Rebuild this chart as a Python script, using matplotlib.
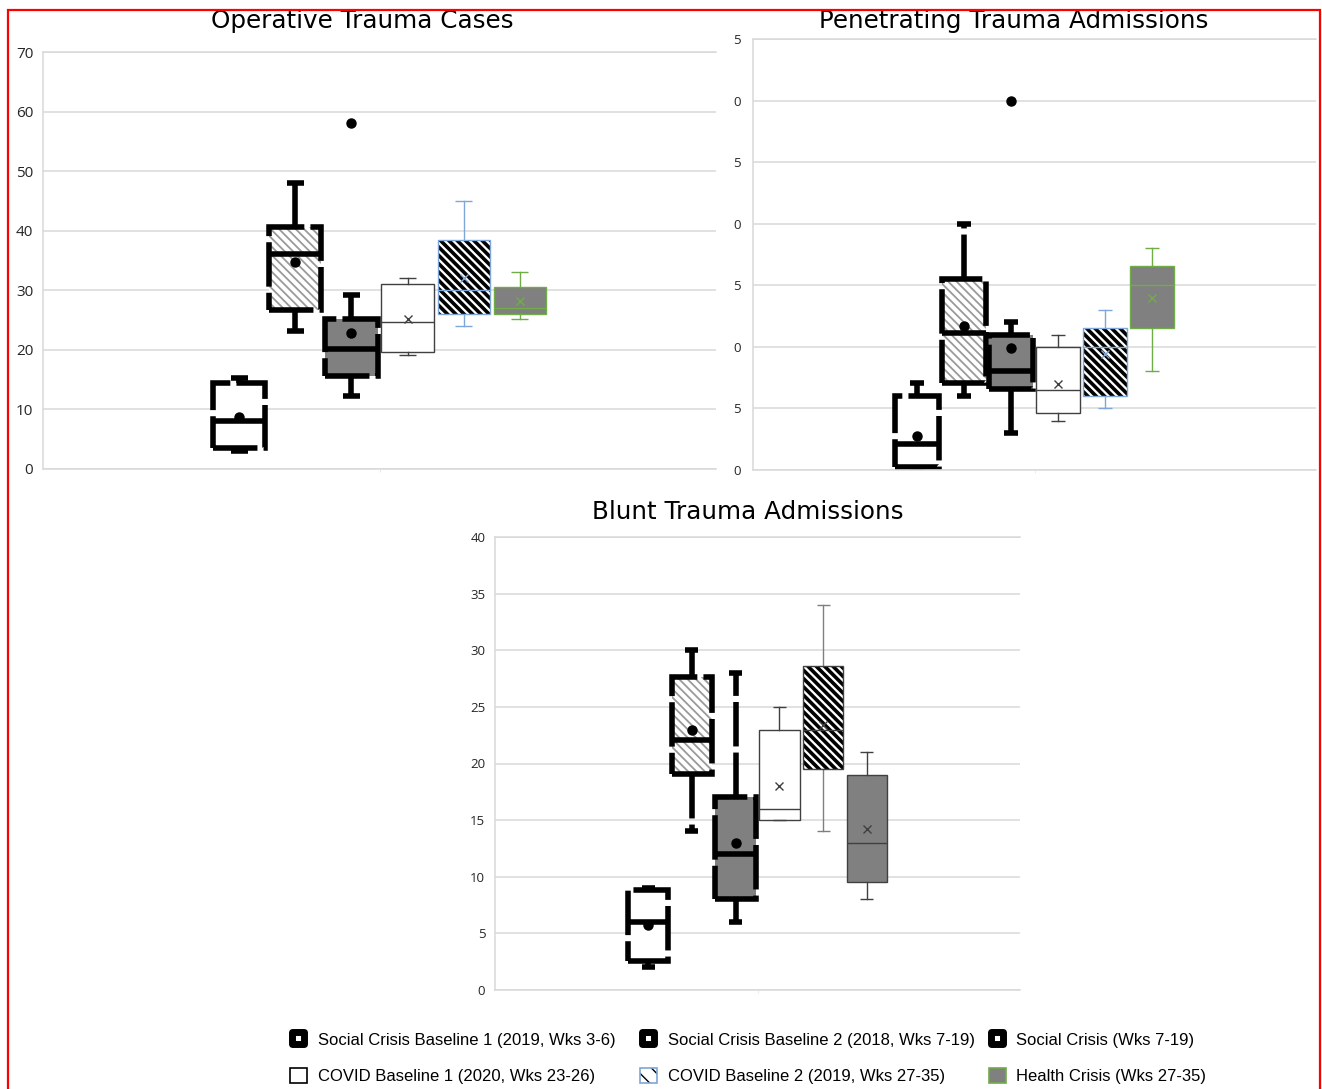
import matplotlib
matplotlib.use("Agg")
import matplotlib as mpl
import matplotlib.pyplot as plt
from matplotlib.patches import Patch, PathPatch, Rectangle
from matplotlib.lines import Line2D
from matplotlib.markers import MarkerStyle
from matplotlib.legend_handler import HandlerTuple

W, H, DPI = 1322, 1089, 100

series_names = [
    "Social Crisis Baseline 1 (2019, Wks 3-6)",
    "Social Crisis Baseline 2 (2018, Wks 7-19)",
    "Social Crisis (Wks 7-19)",
    "COVID Baseline 1 (2020, Wks 23-26)",
    "COVID Baseline 2 (2019, Wks 27-35)",
    "Health Crisis (Wks 27-35)",
]

# ---- Operative Trauma Cases ----
op_whislo = [3.0, 23.2, 12.2, 19.2, 24.0, 25.1]
op_q1     = [3.5, 26.7, 15.6, 19.6, 26.1, 26.1]
op_med    = [8.1, 36.1, 20.1, 24.6, 30.0, 27.1]
op_q3     = [14.5, 40.6, 25.2, 31.0, 38.5, 30.5]
op_whishi = [15.2, 48.0, 29.2, 32.1, 45.0, 33.1]
op_mean   = [8.8, 34.7, 22.8, 25.1, 32.0, 28.2]
op_fliers = [[], [], [58.0], [], [], []]
op_ticks = [0, 10, 20, 30, 40, 50, 60, 70]
op_ticklabels = ["0", "10", "20", "30", "40", "50", "60", "70"]

# ---- Penetrating Trauma Admissions ----
pen_whislo = [0.0, 6.0, 3.0, 4.0, 5.0, 8.0]
pen_q1     = [0.25, 7.1, 6.6, 4.6, 6.0, 11.5]
pen_med    = [2.1, 11.1, 8.0, 6.5, 10.0, 15.0]
pen_q3     = [6.0, 15.5, 11.0, 10.0, 11.5, 16.6]
pen_whishi = [7.1, 20.0, 12.0, 11.0, 13.0, 18.0]
pen_mean   = [2.8, 11.7, 9.9, 7.0, 9.4, 14.0]
pen_fliers = [[], [], [30.0], [], [], []]
pen_ticks = [0, 5, 10, 15, 20, 25, 30, 35]
pen_ticklabels = ["0", "5", "0", "5", "0", "5", "0", "5"]

# ---- Blunt Trauma Admissions ----
bl_whislo = [2.0, 14.0, 6.0, 15.0, 14.0, 8.0]
bl_q1     = [2.6, 19.1, 8.0, 15.0, 19.5, 9.5]
bl_med    = [6.0, 22.1, 12.0, 16.0, 23.0, 13.0]
bl_q3     = [8.8, 27.6, 17.0, 23.0, 28.6, 19.0]
bl_whishi = [9.0, 30.0, 28.0, 25.0, 34.0, 21.0]
bl_mean   = [5.7, 23.0, 13.0, 18.0, 23.4, 14.2]
bl_fliers = [[], [], [], [], [], []]
bl_ticks = [0, 5, 10, 15, 20, 25, 30, 35, 40]
bl_ticklabels = ["0", "5", "10", "15", "20", "25", "30", "35", "40"]

positions = [1, 2, 3, 4, 5, 6]

# ---- styles ----
THICK = 4.0
DASH = (0, (8, 1.1))
BLUE = "#7ea6d8"
GREEN = "#70ad47"
DARK = "#404040"
MID = "#7f7f7f"
FILLGRAY = "#808080"
GRID = "#d9d9d9"


def thick(fill, hatch=None, hcolor=None, hlw=1.0):
    return dict(fill=fill, edge="black", lw=THICK, ls=DASH, wcolor="black",
                mcolor="black", hatch=hatch, hcolor=hcolor, hlw=hlw,
                mean=dict(marker="o", markerfacecolor="black",
                          markeredgecolor="black", markersize=6.5))


def thin(fill, edge, wcolor, mcolor, hatch=None, hcolor=None, hlw=1.0):
    return dict(fill=fill, edge=edge, lw=1.0, ls="-", wcolor=wcolor,
                mcolor=mcolor, hatch=hatch, hcolor=hcolor, hlw=hlw,
                mean=dict(marker="x", markeredgecolor=mcolor,
                          markerfacecolor=mcolor, markersize=6,
                          markeredgewidth=1.0))


top_styles = [
    thick("white"),
    thick("white", hatch="\\\\\\\\", hcolor="#9a9a9a", hlw=1.3),
    thick(FILLGRAY),
    thin("white", DARK, DARK, DARK),
    thin("white", BLUE, BLUE, BLUE, hatch="\\\\\\\\", hcolor="black", hlw=2.6),
    thin(FILLGRAY, GREEN, GREEN, GREEN),
]
bottom_styles = [
    thick("white"),
    thick("white", hatch="\\\\\\\\", hcolor="#9a9a9a", hlw=1.3),
    thick(FILLGRAY),
    thin("white", DARK, DARK, DARK),
    thin("white", DARK, MID, DARK, hatch="\\\\\\\\", hcolor="black", hlw=2.6),
    thin(FILLGRAY, DARK, DARK, DARK),
]

TICKFONT = "Open Sans"
TITLEFONT = "DejaVu Sans"
LEGFONT = "Liberation Sans"

fig = plt.figure(figsize=(W / DPI, H / DPI), dpi=DPI)


def px_axes(l, t, r, b):
    return fig.add_axes([l / W, 1 - b / H, (r - l) / W, (b - t) / H])


def draw_series(ax, pos, st, s):
    bp = ax.bxp([st], positions=[pos], widths=0.93, capwidths=0.3,
                patch_artist=True, showmeans=True, manage_ticks=False,
                zorder=2,
                boxprops=dict(facecolor=s["fill"], edgecolor=s["edge"],
                              linewidth=s["lw"], linestyle=s["ls"]),
                whiskerprops=dict(color=s["wcolor"], linewidth=s["lw"],
                                  linestyle=s["ls"]),
                capprops=dict(color=s["wcolor"], linewidth=s["lw"],
                              solid_capstyle="butt"),
                medianprops=dict(color=s["mcolor"], linewidth=s["lw"],
                                 solid_capstyle="butt"),
                meanprops=s["mean"],
                flierprops=dict(marker="o", markerfacecolor="black",
                                markeredgecolor="black", markersize=6.5))
    if s["hatch"]:
        box = bp["boxes"][0]
        path = box.get_path()
        with mpl.rc_context({"hatch.linewidth": s["hlw"]}):
            hp = PathPatch(path, facecolor="none", edgecolor=s["hcolor"],
                           lw=0, hatch=s["hatch"], zorder=2.02)
        if hasattr(hp, "set_hatch_linewidth"):
            hp.set_hatch_linewidth(s["hlw"])
        ax.add_patch(hp)
        border = PathPatch(path, facecolor="none", edgecolor=s["edge"],
                           lw=s["lw"], ls=s["ls"], zorder=2.05)
        ax.add_patch(border)
        box.set_edgecolor("none")


panels = [
    dict(title="Operative Trauma Cases", rect=(43, 52, 716, 469),
         ylim=(0, 70), ticks=op_ticks, labels=op_ticklabels, fs=11, pad=7,
         title_xy=(362, 21),
         data=(op_whislo, op_q1, op_med, op_q3, op_whishi, op_mean, op_fliers),
         styles=top_styles),
    dict(title="Penetrating Trauma Admissions", rect=(753, 39, 1316, 470),
         ylim=(0, 35), ticks=pen_ticks, labels=pen_ticklabels, fs=9.5, pad=8.5,
         title_xy=(1014, 21),
         data=(pen_whislo, pen_q1, pen_med, pen_q3, pen_whishi, pen_mean, pen_fliers),
         styles=top_styles),
    dict(title="Blunt Trauma Admissions", rect=(495, 537, 1020, 990),
         ylim=(0, 40), ticks=bl_ticks, labels=bl_ticklabels, fs=9.5, pad=7,
         title_xy=(748, 512),
         data=(bl_whislo, bl_q1, bl_med, bl_q3, bl_whishi, bl_mean, bl_fliers),
         styles=bottom_styles),
]

for p in panels:
    ax = px_axes(*p["rect"])
    ax.set_xlim(-2.5, 9.5)
    ax.set_ylim(*p["ylim"])
    ax.set_yticks(p["ticks"])
    ax.set_yticklabels(p["labels"], fontsize=p["fs"], family=TICKFONT,
                       color="#262626")
    ax.tick_params(axis="y", length=0, pad=p["pad"])
    ax.set_xticks([3.5])
    ax.set_xticklabels([""])
    ax.tick_params(axis="x", length=2, width=0.6, color="#e6e6e6")
    ax.yaxis.grid(True, color=GRID, linewidth=1.1)
    ax.set_axisbelow(True)
    for side in ("left", "bottom", "top"):
        ax.spines[side].set_color(GRID)
        ax.spines[side].set_linewidth(1.1)
    ax.spines["right"].set_visible(False)
    whislo, q1, med, q3, whishi, mean, fliers = p["data"]
    for i, pos in enumerate(positions):
        st = dict(whislo=whislo[i], q1=q1[i], med=med[i], q3=q3[i],
                  whishi=whishi[i], mean=mean[i], fliers=fliers[i])
        draw_series(ax, pos, st, p["styles"][i])
    tx, ty = p["title_xy"]
    fig.text(tx / W, 1 - ty / H, p["title"], ha="center", va="center",
             fontsize=17.7, family=TITLEFONT, color="black")

# ---- legend ----
thick_handle = lambda: Line2D([0], [0], ls="none",
                              marker=MarkerStyle("s", joinstyle="round"),
                              markersize=8, markerfacecolor="white",
                              markeredgecolor="black", markeredgewidth=5)
with mpl.rc_context({"hatch.linewidth": 2.6}):
    h_cov2_hatch = Patch(facecolor="white", edgecolor="black", lw=0,
                         hatch="\\\\")
if hasattr(h_cov2_hatch, "set_hatch_linewidth"):
    h_cov2_hatch.set_hatch_linewidth(2.6)
h_cov2 = (h_cov2_hatch, Patch(facecolor="none", edgecolor=BLUE, lw=1.2))
handles = [
    thick_handle(), thick_handle(), thick_handle(),
    Patch(facecolor="white", edgecolor="black", lw=1.2),
    h_cov2,
    Patch(facecolor=FILLGRAY, edgecolor=GREEN, lw=1.2),
]
col_x = [290, 640, 989]
for c in range(3):
    hs = [handles[c], handles[c + 3]]
    ls = [series_names[c], series_names[c + 3]]
    fig.legend(hs, ls, loc="center left",
               bbox_to_anchor=(col_x[c] / W, 1 - 1058 / H),
               frameon=False, borderpad=0, borderaxespad=0,
               handlelength=1.0, handleheight=1.0, handletextpad=0.65,
               labelspacing=1.2,
               prop=dict(family=LEGFONT, size=12),
               handler_map={tuple: HandlerTuple(ndivide=1, pad=0)})

# ---- red frame ----
fig.add_artist(Rectangle((8 / W, -0.05), (1320 - 8) / W, (1089 - 10) / H + 0.05,
                         transform=fig.transFigure, fill=False,
                         edgecolor="red", lw=1.6, zorder=20))

fig.savefig("out.png", dpi=DPI)
